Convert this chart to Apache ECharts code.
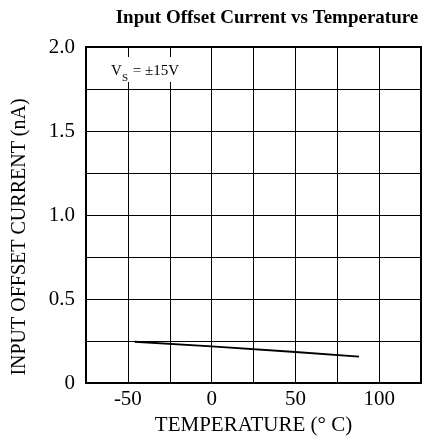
<!DOCTYPE html>
<html><head><meta charset="utf-8">
<script src="https://cdn.jsdelivr.net/npm/echarts@6/dist/echarts.min.js"></script>
<style>html,body{margin:0;padding:0;background:#fff}#c{width:424px;height:441px}</style>
</head><body><div id="c"></div>
<script>
var title = 'Input Offset Current vs Temperature';
var xName = 'TEMPERATURE (° C)';
var yName = 'INPUT OFFSET CURRENT (nA)';
var xTickLabels = ['-50', '0', '50', '100'];
var yTickLabels = ['0', '0.5', '1.0', '1.5', '2.0'];
var temperature = [-46, 0, 50, 88];
var offsetCurrent = [0.245, 0.218, 0.184, 0.157];

var font = 'Liberation Serif, Times New Roman, serif';
var chart = echarts.init(document.getElementById('c'));
chart.setOption({
  animation: false,
  backgroundColor: '#fff',
  title: {text: title, left: 262, top: 4, textAlign: 'center',
    textStyle: {fontFamily: font, fontWeight: 'bold', fontSize: 19, color: '#000'}},
  grid: {left: 86, right: 2, top: 47, bottom: 58, show: true, borderColor: '#000', borderWidth: 2},
  xAxis: {type: 'value', min: -75, max: 125, interval: 25,
    name: xName, nameLocation: 'middle', nameGap: 24,
    nameTextStyle: {fontFamily: font, fontSize: 21, color: '#000'},
    axisLine: {show: true, onZero: false, lineStyle: {color: '#000', width: 2}},
    axisTick: {show: false},
    splitLine: {show: true, lineStyle: {color: '#000', width: 1}},
    axisLabel: {fontFamily: font, fontSize: 21, color: '#000', margin: 6,
      formatter: function (v) { var s = String(v); return xTickLabels.indexOf(s) >= 0 ? s : ''; }}},
  yAxis: {type: 'value', min: 0, max: 2, interval: 0.25,
    name: yName, nameLocation: 'middle', nameGap: 56,
    nameTextStyle: {fontFamily: font, fontSize: 20, color: '#000', padding: [0, 44, 0, 0]},
    axisLine: {show: true, onZero: false, lineStyle: {color: '#000', width: 2}},
    axisTick: {show: false},
    splitLine: {show: true, lineStyle: {color: '#000', width: 1}},
    axisLabel: {fontFamily: font, fontSize: 21, color: '#000', margin: 11,
      formatter: function (v) {
        var s = v === 0 ? '0' : v.toFixed(1);
        return yTickLabels.indexOf(s) >= 0 ? s : '';
      }}},
  graphic: [
    {type: 'rect', z: 100, shape: {x: 104, y: 57, width: 86, height: 25}, style: {fill: '#fff'}},
    {type: 'text', z: 101, x: 111, y: 71, style: {text: 'V', font: '15px ' + font, fill: '#000', verticalAlign: 'middle'}},
    {type: 'text', z: 101, x: 122, y: 78, style: {text: 'S', font: '11px ' + font, fill: '#000', verticalAlign: 'middle'}},
    {type: 'text', z: 101, x: 129, y: 71, style: {text: ' = ±15V', font: '15px ' + font, fill: '#000', verticalAlign: 'middle'}}
  ],
  series: [{type: 'line', data: temperature.map(function (t, i) { return [t, offsetCurrent[i]]; }),
    symbol: 'none', lineStyle: {color: '#000', width: 2}, smooth: false}]
});
</script></body></html>
